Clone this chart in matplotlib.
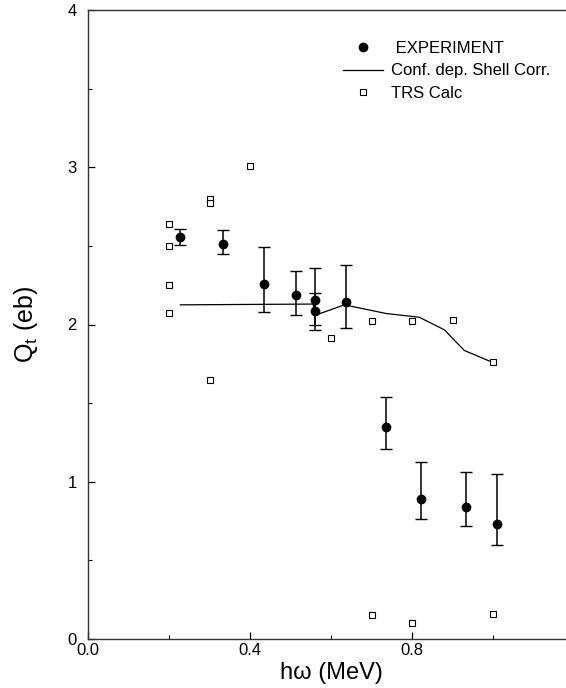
import matplotlib
matplotlib.use('Agg')
import matplotlib.pyplot as plt
import numpy as np
from matplotlib.ticker import FixedLocator, MultipleLocator, FormatStrFormatter

plt.rcParams['font.family'] = ['Liberation Sans', 'DejaVu Sans']

# Experimental Q_t values with asymmetric error bars
exp_x = [0.228, 0.334, 0.434, 0.513, 0.560, 0.560, 0.636, 0.735, 0.822, 0.934, 1.011]
exp_y = [2.555, 2.515, 2.26, 2.19, 2.155, 2.087, 2.14, 1.345, 0.89, 0.84, 0.73]
exp_hi = [2.61, 2.60, 2.49, 2.34, 2.36, 2.20, 2.38, 1.54, 1.126, 1.06, 1.05]
exp_lo = [2.505, 2.45, 2.08, 2.06, 1.968, 1.997, 1.975, 1.21, 0.76, 0.72, 0.60]

# Configuration dependent shell correction curve
shell_x = [0.228, 0.556, 0.559, 0.633, 0.736, 0.818, 0.880, 0.929, 1.003]
shell_y = [2.125, 2.13, 2.057, 2.125, 2.07, 2.046, 1.966, 1.835, 1.755]

# TRS calculations
trs_x = [0.2, 0.2, 0.2, 0.2, 0.3, 0.3, 0.3, 0.4, 0.6, 0.7, 0.8, 0.9, 1.0, 0.7, 0.8, 1.0]
trs_y = [2.64, 2.50, 2.25, 2.07, 2.80, 2.77, 1.65, 3.01, 1.916, 2.025, 2.025, 2.03, 1.763, 0.154, 0.103, 0.16]

xticks_major = [0.0, 0.4, 0.8]
xticks_minor = [0.2, 0.6, 1.0]

fig = plt.figure(figsize=(5.66, 6.88), dpi=100)
ax = fig.add_axes([88/566, 1-639/688, 486/566, 629/688])

exp_y = np.array(exp_y)
yerr = [exp_y - np.array(exp_lo), np.array(exp_hi) - exp_y]
ax.errorbar(exp_x, exp_y, yerr=yerr, fmt='none', ecolor='k', elinewidth=1.1,
            capsize=4.5, capthick=1.0)
h_exp, = ax.plot(exp_x, exp_y, 'o', color='k', ms=6, label=' EXPERIMENT')
h_shell, = ax.plot(shell_x, shell_y, '-', color='k', lw=0.9,
                   label='Conf. dep. Shell Corr.')
h_trs, = ax.plot(trs_x, trs_y, 's', mfc='white', mec='k', mew=0.8, ms=5,
                 label='TRS Calc')

ax.set_xlim(0, 1.2)
ax.set_ylim(0, 4)
ax.xaxis.set_major_locator(FixedLocator(xticks_major))
ax.xaxis.set_minor_locator(FixedLocator(xticks_minor))
ax.xaxis.set_major_formatter(FormatStrFormatter('%.1f'))
ax.yaxis.set_major_locator(MultipleLocator(1))
ax.yaxis.set_minor_locator(MultipleLocator(0.5))
ax.tick_params(which='both', direction='in', labelsize=12, top=False, right=False)
ax.tick_params(which='major', length=5, width=0.9)
ax.tick_params(which='minor', length=3, width=0.8)
ax.tick_params(axis='y', pad=8)
ax.tick_params(axis='x', pad=3)
for s in ax.spines.values():
    s.set_color('#333333')
    s.set_linewidth(1.0)

ax.set_xlabel('hω (MeV)', fontsize=17, labelpad=3)
ax.set_ylabel('Q$_\\mathregular{t}$ (eb)', fontsize=18, labelpad=20)

fig.legend(handles=[h_exp, h_shell, h_trs], loc='upper left',
           bbox_to_anchor=(343/566, 1-41/688), frameon=False, fontsize=12,
           borderpad=0, borderaxespad=0, handlelength=2.4, handletextpad=0.5,
           labelspacing=0.45)

fig.savefig('out.png', dpi=100)
